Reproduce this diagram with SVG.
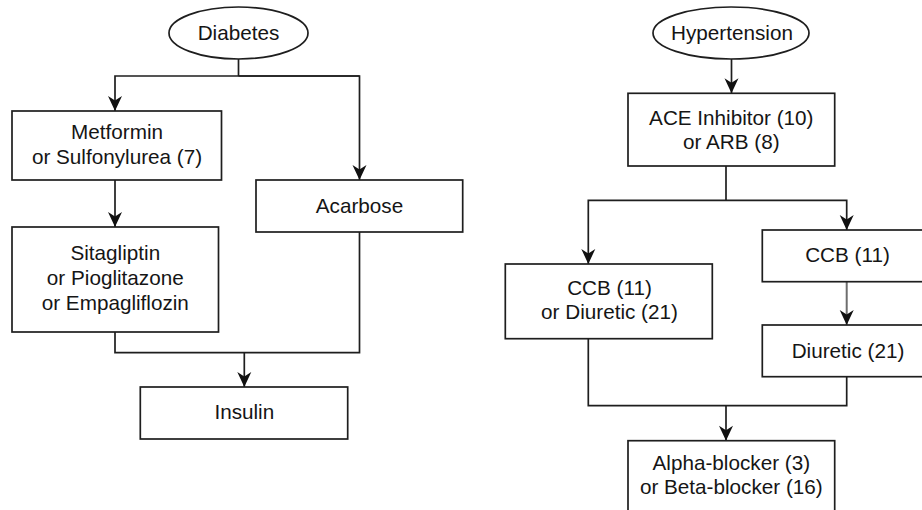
<svg xmlns="http://www.w3.org/2000/svg" width="922" height="510" viewBox="0 0 922 510">
<defs>
<marker id="arr" markerUnits="userSpaceOnUse" markerWidth="16" markerHeight="15" refX="15" refY="7" orient="auto" overflow="visible">
<path d="M15,7 L0,0 L4.5,7 L0,14 Z" fill="#111"/>
</marker>
<style>
.box{fill:#fff;stroke:#1e1e1e;stroke-width:1.7}
.t{font-family:"Liberation Sans",Arial,sans-serif;font-size:20.7px;fill:#151515;text-anchor:middle}
.c{fill:none;stroke:#1e1e1e;stroke-width:1.7}
.g{fill:none;stroke:#6e6e6e;stroke-width:2}
</style>
</defs>
<rect width="922" height="510" fill="#fff"/>
<g id="connectors">
<path class="c" d="M238.5,59 V76"/>
<path class="c" d="M359.5,76 H115 V111" marker-end="url(#arr)"/>
<path class="c" d="M238.5,76 H359.5 V180" marker-end="url(#arr)"/>
<path class="c" d="M115,180 V227" marker-end="url(#arr)"/>
<path class="c" d="M115,332 V352.7 H359.5 V232"/>
<path class="c" d="M244.3,352.7 V387" marker-end="url(#arr)"/>
<path class="c" d="M731.5,59 V93.3" marker-end="url(#arr)"/>
<path class="c" d="M726,166 V200.3"/>
<path class="c" d="M726,200.3 H588.3 V264" marker-end="url(#arr)"/>
<path class="c" d="M726,200.3 H846.7 V230" marker-end="url(#arr)"/>
<path class="g" d="M846.7,281.7 V325" marker-end="url(#arr)"/>
<path class="c" d="M588.3,338.7 V405.7 H846.7 V376.7"/>
<path class="c" d="M726,405.7 V440.7" marker-end="url(#arr)"/>
</g>
<g id="diabetes">
<ellipse class="box" cx="238.5" cy="33" rx="69.5" ry="26"/>
<text class="t" x="238.5" y="39.5">Diabetes</text>
</g>
<g id="metformin">
<rect class="box" x="12" y="111" width="209.5" height="69"/>
<text class="t" x="117" y="139">Metformin</text>
<text class="t" x="117" y="163.5">or Sulfonylurea (7)</text>
</g>
<g id="sitagliptin">
<rect class="box" x="12" y="227" width="206.5" height="105"/>
<text class="t" x="115.3" y="260">Sitagliptin</text>
<text class="t" x="115.3" y="284.5">or Pioglitazone</text>
<text class="t" x="115.3" y="309.5">or Empagliflozin</text>
</g>
<g id="acarbose">
<rect class="box" x="256" y="180" width="206.7" height="52"/>
<text class="t" x="359.5" y="212.5">Acarbose</text>
</g>
<g id="insulin">
<rect class="box" x="140.3" y="387" width="207.4" height="52"/>
<text class="t" x="244.3" y="419">Insulin</text>
</g>
<g id="hypertension">
<ellipse class="box" cx="731" cy="33" rx="78" ry="26"/>
<text class="t" x="732" y="39.5">Hypertension</text>
</g>
<g id="ace">
<rect class="box" x="628" y="93.3" width="206.7" height="72.7"/>
<text class="t" x="731.3" y="125">ACE Inhibitor (10)</text>
<text class="t" x="731.3" y="148.5">or ARB (8)</text>
</g>
<g id="ccb-or-diuretic">
<rect class="box" x="505.3" y="264" width="207" height="74.7"/>
<text class="t" x="609.5" y="294.5">CCB (11)</text>
<text class="t" x="609.5" y="319">or Diuretic (21)</text>
</g>
<g id="ccb">
<rect class="box" x="762.3" y="230" width="170" height="51.7"/>
<text class="t" x="847.5" y="262">CCB (11)</text>
</g>
<g id="diuretic">
<rect class="box" x="762.3" y="325" width="170" height="51.7"/>
<text class="t" x="848" y="357.5">Diuretic (21)</text>
</g>
<g id="blocker">
<rect class="box" x="628" y="440.7" width="206.7" height="75"/>
<text class="t" x="731.3" y="470">Alpha-blocker (3)</text>
<text class="t" x="731.3" y="493.5">or Beta-blocker (16)</text>
</g>
</svg>
